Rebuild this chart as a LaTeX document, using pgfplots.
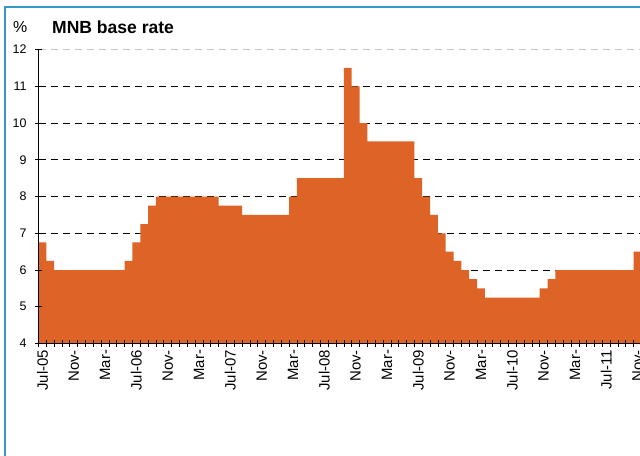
\documentclass[border=0pt]{standalone}
\usepackage{pgfplots}
\pgfplotsset{compat=1.18}
\usepackage{fontspec}
\setmainfont{Liberation Sans}
\definecolor{barorange}{RGB}{222,99,39}
\definecolor{frameblue}{RGB}{51,153,204}
\begin{document}
\begin{tikzpicture}
\useasboundingbox (0,0) rectangle (640bp,456bp);
\draw[frameblue, line width=2bp] (5bp,-2bp) -- (5bp,449bp) -- (645bp,449bp);
\node[anchor=base west, inner sep=0pt, font=\fontsize{16}{18}\selectfont] at (13bp,423bp) {\%};
\node[anchor=base west, inner sep=0pt, font=\fontsize{17.6}{19}\selectfont\bfseries] at (52bp,422bp) {MNB base rate};
\begin{axis}[
  at={(38.5bp,112.5bp)}, anchor=south west,
  scale only axis, width=603bp, height=294bp,
  xmin=-0.5, xmax=76.5, ymin=4, ymax=12,
  axis x line*=bottom, axis y line*=left,
  axis line style={black, line width=0.8pt},
  axis on top,
  ytick={4,5,...,12},
  ytick pos=left,
  yticklabel style={font=\fontsize{12.5}{13}\selectfont, xshift=-5bp},
  xtick={-0.5,0.5,...,76.5},
  xticklabels={},
  extra x ticks={0,4,...,76},
  extra x tick labels={Jul-05,Nov-,Mar-,Jul-06,Nov-,Mar-,Jul-07,Nov-,Mar-,Jul-08,Nov-,Mar-,Jul-09,Nov-,Mar-,Jul-10,Nov-,Mar-,Jul-11,Nov-},
  extra x tick style={major tick length=0pt, tick style={draw=none},
    xticklabel style={rotate=90, anchor=east, font=\fontsize{15}{16}\selectfont, xshift=-3bp}},
  tick style={black, line width=0.7pt},
  major tick length=7bp,
  tick align=center,
  /pgf/number format/assume math mode=true,
  clip=true,
]
% grid lines
\foreach \g in {5,...,11} {
  \addplot[black, dash pattern=on 7bp off 5bp, line width=0.7pt, forget plot] coordinates {(-0.5,\g) (76.5,\g)};
}
\addplot[gray!45, dash pattern=on 7bp off 5bp, line width=1pt, forget plot] coordinates {(-0.5,12) (76.5,12)};
\addplot[ybar, bar width=1, bar shift=0pt, fill=barorange, draw=none] coordinates {
(0,6.75)(1,6.25)(2,6)(3,6)(4,6)(5,6)(6,6)(7,6)(8,6)(9,6)(10,6)
(11,6.25)(12,6.75)(13,7.25)(14,7.75)
(15,8)(16,8)(17,8)(18,8)(19,8)(20,8)(21,8)(22,8)
(23,7.75)(24,7.75)(25,7.75)
(26,7.5)(27,7.5)(28,7.5)(29,7.5)(30,7.5)(31,7.5)
(32,8)
(33,8.5)(34,8.5)(35,8.5)(36,8.5)(37,8.5)(38,8.5)
(39,11.5)(40,11)(41,10)
(42,9.5)(43,9.5)(44,9.5)(45,9.5)(46,9.5)(47,9.5)
(48,8.5)(49,8)(50,7.5)(51,7)(52,6.5)(53,6.25)(54,6)(55,5.75)(56,5.5)
(57,5.25)(58,5.25)(59,5.25)(60,5.25)(61,5.25)(62,5.25)(63,5.25)
(64,5.5)(65,5.75)
(66,6)(67,6)(68,6)(69,6)(70,6)(71,6)(72,6)(73,6)(74,6)(75,6)
(76,6.5)
};
\end{axis}
\end{tikzpicture}
\end{document}
